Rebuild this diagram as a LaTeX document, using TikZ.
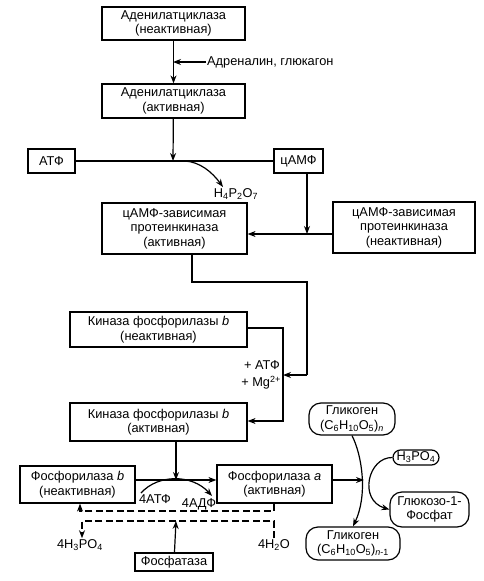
\documentclass[tikz,border=0pt]{standalone}
\usepackage{fontspec}
\setmainfont{Liberation Sans}
\usetikzlibrary{arrows.meta, positioning}

\tikzset{
  box/.style={draw, line width=1.2pt, align=center, inner sep=1pt, font=\fontsize{12.8}{14.5}\selectfont},
  rbox/.style={box, rounded corners=12pt},
  lbl/.style={inner sep=1pt, font=\fontsize{12.8}{14.5}\selectfont},
  arr/.style={line width=1.2pt, -{Stealth[length=8pt, width=6pt]}},
  ln/.style={line width=1.2pt},
  dashline/.style={line width=1.2pt, dash pattern=on 7pt off 3.5pt}
}

\begin{document}
\begin{tikzpicture}[x=1pt, y=-1pt]
\useasboundingbox (0,0) rectangle (483,581);

% boxes of the cascade
\node[box, minimum width=143pt, minimum height=33pt] (adci) at (173.5,23.5) {Аденилатциклаза\\(неактивная)};
\node[box, minimum width=143pt, minimum height=34pt] (adca) at (173.5,101) {Аденилатциклаза\\(активная)};
\node[box, minimum width=47pt, minimum height=24pt] (atp) at (51.5,161) {АТФ};
\node[box, minimum width=49pt, minimum height=24pt] (camp) at (298.5,161) {цАМФ};
\node[box, minimum width=145pt, minimum height=51pt] (pka) at (174.5,228.5) {цАМФ-зависимая\\протеинкиназа\\(активная)};
\node[box, minimum width=142pt, minimum height=51pt] (pki) at (404,227.5) {цАМФ-зависимая\\протеинкиназа\\(неактивная)};
\node[box, minimum width=177pt, minimum height=35pt] (kbi) at (158.5,329.5) {Киназа фосфорилазы \textit{b}\\(неактивная)};
\node[box, minimum width=177pt, minimum height=38pt] (kba) at (158.5,422) {Киназа фосфорилазы \textit{b}\\(активная)};
\node[box, minimum width=115pt, minimum height=37pt] (phb) at (77.5,484.5) {Фосфорилаза \textit{b}\\(неактивная)};
\node[box, minimum width=115pt, minimum height=38pt] (pha) at (274.5,484) {Фосфорилаза \textit{a}\\(активная)};
\node[box, minimum width=78pt, minimum height=18pt] (fosf) at (174,562) {Фосфатаза};

% glycogen side
\node[rbox, minimum width=86pt, minimum height=32pt] (gly1) at (352,419) {Гликоген\\(C\textsubscript{6}H\textsubscript{10}O\textsubscript{5})\textsubscript{\textit{n}}};
\node[rbox, rounded corners=7.5pt, minimum width=46pt, minimum height=15pt] (h3po) at (416,457.5) {H\textsubscript{3}PO\textsubscript{4}};
\node[rbox, minimum width=79pt, minimum height=35pt] (g1p) at (429.5,509.5) {Глюкозо-1-\\Фосфат};
\node[rbox, minimum width=94pt, minimum height=33pt] (gly2) at (353,543.5) {Гликоген\\(C\textsubscript{6}H\textsubscript{10}O\textsubscript{5})\textsubscript{\textit{n}-1}};

% labels
\node[lbl, anchor=west] (adr) at (206,62) {Адреналин, глюкагон};
\node[lbl] (ppi) at (236,194) {H\textsubscript{4}P\textsubscript{2}O\textsubscript{7}};
\node[lbl, anchor=east] (addatp) at (281,365) {+ АТФ};
\node[lbl, anchor=east] (addmg) at (282,383) {+ Mg\textsuperscript{2+}};
\node[lbl] (atp4) at (155,499) {4АТФ};
\node[lbl] (adp4) at (199,504) {4АДФ};
\node[lbl] (pho4) at (80,545) {4H\textsubscript{3}PO\textsubscript{4}};
\node[lbl] (wat4) at (274,545) {4H\textsubscript{2}O};

% coordinates on the lines
\coordinate (j1) at (173,62);
\coordinate (j2) at (173,161);
\coordinate (j3) at (307,234);
\coordinate (j4) at (283,375);
\coordinate (j5) at (176,480);
\coordinate (j6) at (176,521);
\coordinate (j7) at (364,480);
\coordinate (ppitip) at (223,187);

% top part
\draw[arr] (adci) -- (adca);
\draw[arr] (adr.west) -- (j1);
\draw[arr] (adca) -- (j2);
\draw[ln] (atp) -- (camp);
\draw[arr] (185,161) .. controls (200,162) and (212,172) .. (ppitip);
\draw[arr] (camp.south -| j3) -- (j3);
\draw[arr] (pki.west |- j3) -- (pka.east |- j3);

% kinase activation
\draw[ln] (pka.south -| 192,0) -- (192,282) -- (307,282) -- (307,375);
\draw[arr] (307,375) -- (j4);
\draw[arr] (kbi.east |- 0,328) -- (283,328) -- (283,421) -- (kba.east |- 0,421);
\draw[arr] (kba.south -| j5) -- (j5);
\draw[arr] (phb.east |- j5) -- (pha.west |- j5);
\draw[arr] (141,493) .. controls (158,474) and (192,474) .. (212,496);

% phosphatase
\draw[dashline, -{Stealth[length=8pt, width=6pt]}] (pha.south -| 274,0) -- (274,511) -- (80,511) -- (phb.south -| 80,0);
\draw[dashline, -{Stealth[length=8pt, width=6pt]}] (wat4.north) -- (274,521) -- (82,521) -- (pho4.north -| 82,0);
\draw[arr] (fosf) -- (j6);

% glycogen breakdown
\draw[arr] (pha.east |- j7) -- (j7);
\draw[arr] (gly1.south) .. controls (362,455) and (368,495) .. (gly2.north);
\draw[arr] (h3po.west) .. controls (368,457) and (358,500) .. (g1p.west);

\end{tikzpicture}
\end{document}
